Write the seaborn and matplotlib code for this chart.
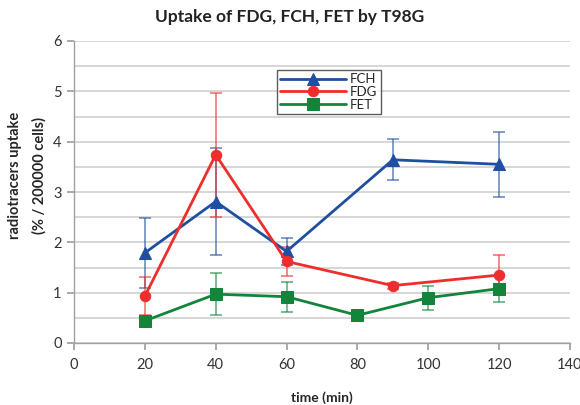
import matplotlib
matplotlib.use("Agg")
import matplotlib.pyplot as plt
import seaborn as sns
import pandas as pd
import numpy as np

fch_x = [20, 40, 60, 90, 120]
fch_y = [1.79, 2.81, 1.82, 3.64, 3.55]
fch_err = [0.69, 1.06, 0.27, 0.41, 0.64]

fdg_x = [20, 40, 60, 90, 120]
fdg_y = [0.93, 3.74, 1.62, 1.14, 1.35]
fdg_err = [0.38, 1.23, 0.28, 0.06, 0.39]

fet_x = [20, 40, 60, 80, 100, 120]
fet_y = [0.44, 0.97, 0.92, 0.55, 0.90, 1.08]
fet_err = [0.0, 0.42, 0.30, 0.0, 0.24, 0.26]

sns.set_theme(style="white")
plt.rcParams['font.family'] = ['Lato', 'DejaVu Sans']

fig = plt.figure(figsize=(5.8, 4.05), dpi=100)
ax = fig.add_axes([74/580, 1-343/405, 496/580, 302/405])

series = [
    ("FCH", fch_x, fch_y, fch_err, "#1F4FA0", "^", 8),
    ("FDG", fdg_x, fdg_y, fdg_err, "#EE2D2D", "o", 7.5),
    ("FET", fet_x, fet_y, fet_err, "#12853A", "s", 8),
]
for name, x, y, e, c, m, ms in series:
    ax.errorbar(x, y, yerr=e, fmt="none", ecolor=c, alpha=0.6, elinewidth=1.3,
                capsize=4, capthick=1.3, zorder=2)
    df = pd.DataFrame({"time": x, "val": y})
    sns.lineplot(data=df, x="time", y="val", ax=ax, color=c, marker=m,
                 markersize=ms, markeredgecolor=c, linewidth=2, label=name,
                 zorder=3)

ax.set_xlim(0, 140)
ax.set_ylim(0, 6)
ax.set_xticks(np.arange(0, 141, 20))
ax.set_yticks(np.arange(0, 7, 1))
ax.set_yticks(np.arange(0, 6.01, 0.5), minor=True)
ax.yaxis.grid(True, which="both", color="#CFCFCF", linewidth=1.2)
ax.set_axisbelow(True)
for s in ["top", "right"]:
    ax.spines[s].set_visible(False)
for s in ["left", "bottom"]:
    ax.spines[s].set_color("#A0A0A0")
    ax.spines[s].set_linewidth(1)
ax.tick_params(axis="x", which="major", bottom=True, length=5, color="#A0A0A0",
               labelsize=10.5, labelcolor="#333333", pad=6)
ax.tick_params(axis="y", which="major", left=True, length=5, color="#A0A0A0",
               labelsize=10.5, labelcolor="#333333", pad=4)
ax.tick_params(axis="y", which="minor", left=False)

ax.set_xlabel("time (min)", fontsize=10, fontweight="bold", labelpad=14)
ax.set_ylabel("radiotracers uptake\n(% / 200000 cells)", fontsize=10.5,
              fontweight="bold", linespacing=1.85)
ax.yaxis.set_label_coords(-0.055, 0.556)
fig.text(0.5, 1-17/405, "Uptake of FDG, FCH, FET by T98G", ha="center",
         va="center", fontsize=12.5, fontweight="bold", color="#222222")

leg = ax.legend(loc="upper left", bbox_to_anchor=((277-74)/496, (343-70)/302),
                borderaxespad=0,
                frameon=True, fancybox=False, fontsize=9.5, handlelength=5.0,
                borderpad=0.25, labelspacing=0.05, handletextpad=0.3)
leg.get_frame().set_edgecolor("#333333")
leg.get_frame().set_linewidth(1)

fig.savefig("out.png", dpi=100)
